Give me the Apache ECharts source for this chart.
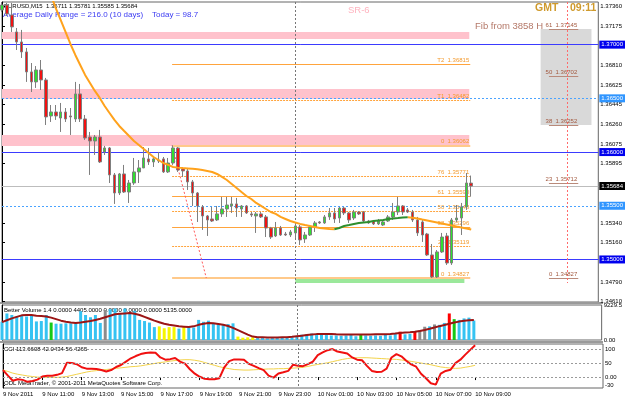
<!DOCTYPE html>
<html><head><meta charset="utf-8">
<script src="https://cdn.jsdelivr.net/npm/echarts@6/dist/echarts.min.js"></script>
<style>html,body{margin:0;padding:0;background:#fff}#c{width:625px;height:398px}</style>
</head><body><div id="c"></div>
<script>
// ---------------- DATA ----------------
const timeLabels = ['9 Nov 2011','9 Nov 11:00','9 Nov 13:00','9 Nov 15:00','9 Nov 17:00','9 Nov 19:00','9 Nov 21:00','9 Nov 23:00','10 Nov 01:00','10 Nov 03:00','10 Nov 05:00','10 Nov 07:00','10 Nov 09:00'];
const labelBars = [0,8,16,24,32,40,48,56,64,72,80,88,96];
const daySeparatorBar = 60;
const priceMin = 1.34604, priceMax = 1.37397;
const priceTicks = [1.37360,1.37175,1.36810,1.36625,1.36445,1.36260,1.36075,1.35895,1.35340,1.35160,1.34790,1.34610];
// open, close, low, high
const candles = [
[1.37323,1.37369,1.37304,1.37397],[1.37369,1.37286,1.37267,1.37388],[1.37276,1.37165,1.37118,1.37388],[1.37118,1.37025,1.36950,1.37155],
[1.37025,1.36932,1.36876,1.37137],[1.36932,1.36746,1.36653,1.36969],[1.36746,1.36653,1.36559,1.36829],[1.36653,1.36764,1.36597,1.36801],
[1.36764,1.36671,1.36578,1.36857],[1.36671,1.36327,1.36252,1.36690],[1.36336,1.36373,1.36280,1.36438],[1.36373,1.36336,1.36299,1.36438],
[1.36317,1.36373,1.36187,1.36457],[1.36373,1.36308,1.36280,1.36410],[1.36336,1.36327,1.36159,1.36410],[1.36308,1.36541,1.36280,1.36653],
[1.36541,1.36308,1.36280,1.36634],[1.36308,1.36131,1.36113,1.36345],[1.36140,1.36103,1.35787,1.36187],[1.36103,1.36140,1.35973,1.36159],
[1.36140,1.35908,1.35898,1.36206],[1.36001,1.36038,1.35973,1.36057],[1.36038,1.35787,1.35712,1.36047],[1.35787,1.35619,1.35517,1.35805],
[1.35619,1.35796,1.35600,1.35805],[1.35796,1.35628,1.35619,1.35880],[1.35628,1.35712,1.35526,1.35740],[1.35712,1.35815,1.35694,1.35945],
[1.35815,1.35852,1.35712,1.35926],[1.35852,1.35945,1.35852,1.36047],[1.35936,1.35908,1.35880,1.36038],[1.35908,1.35936,1.35861,1.35954],
[1.35926,1.35917,1.35898,1.36001],[1.35936,1.35815,1.35805,1.35954],[1.35815,1.35898,1.35805,1.35945],[1.35898,1.36038,1.35880,1.36062],
[1.36038,1.35833,1.35815,1.36047],[1.35843,1.35824,1.35768,1.35852],[1.35824,1.35722,1.35647,1.35852],[1.35722,1.35619,1.35498,1.35740],
[1.35619,1.35498,1.35349,1.35628],[1.35489,1.35405,1.35275,1.35507],[1.35405,1.35368,1.35219,1.35414],[1.35377,1.35358,1.35349,1.35489],
[1.35368,1.35424,1.35358,1.35498],[1.35424,1.35470,1.35396,1.35582],[1.35470,1.35507,1.35396,1.35582],[1.35498,1.35517,1.35433,1.35582],
[1.35517,1.35479,1.35396,1.35573],[1.35470,1.35498,1.35396,1.35507],[1.35498,1.35433,1.35424,1.35507],[1.35424,1.35414,1.35396,1.35442],
[1.35405,1.35424,1.35247,1.35442],[1.35424,1.35396,1.35386,1.35442],[1.35396,1.35293,1.35209,1.35414],[1.35293,1.35209,1.35191,1.35303],
[1.35219,1.35293,1.35209,1.35349],[1.35293,1.35228,1.35219,1.35312],[1.35237,1.35228,1.35219,1.35256],[1.35228,1.35256,1.35209,1.35275],
[1.35247,1.35312,1.35200,1.35349],[1.35303,1.35182,1.35135,1.35321],[1.35191,1.35228,1.35154,1.35256],[1.35228,1.35303,1.35219,1.35321],
[1.35303,1.35340,1.35256,1.35358],[1.35349,1.35340,1.35331,1.35358],[1.35340,1.35396,1.35331,1.35414],[1.35396,1.35433,1.35368,1.35479],
[1.35433,1.35377,1.35340,1.35479],[1.35386,1.35479,1.35340,1.35489],[1.35479,1.35433,1.35414,1.35489],[1.35433,1.35368,1.35340,1.35442],
[1.35386,1.35442,1.35368,1.35461],[1.35442,1.35424,1.35414,1.35451],[1.35442,1.35358,1.35340,1.35451],[1.35358,1.35340,1.35331,1.35368],
[1.35358,1.35331,1.35321,1.35368],[1.35331,1.35358,1.35321,1.35377],[1.35321,1.35349,1.35312,1.35368],[1.35358,1.35396,1.35349,1.35414],
[1.35396,1.35442,1.35368,1.35526],[1.35442,1.35498,1.35414,1.35582],[1.35498,1.35442,1.35414,1.35507],[1.35461,1.35442,1.35433,1.35479],
[1.35442,1.35368,1.35349,1.35461],[1.35368,1.35247,1.35219,1.35396],[1.35349,1.35228,1.35163,1.35368],[1.35237,1.35042,1.35033,1.35247],
[1.35042,1.34837,1.34827,1.35144],[1.34837,1.35070,1.34828,1.35088],[1.35070,1.35209,1.35061,1.35247],[1.35219,1.34967,1.34949,1.35247],
[1.34967,1.35368,1.34949,1.35386],[1.35368,1.35386,1.35349,1.35507],[1.35386,1.35489,1.35228,1.35526],[1.35489,1.35712,1.35461,1.35805],
[1.35711,1.35684,1.35585,1.35781]];
const movingAvg = [null,null,null,null,null,null,null,null,
1.37650,1.37555,1.37462,1.37341,1.37230,1.37118,1.37006,1.36904,1.36811,1.36718,1.36643,1.36569,1.36504,1.36429,1.36364,1.36299,1.36243,1.36196,
1.36150,1.36103,1.36066,1.36029,1.35992,1.35954,1.35926,1.35898,1.35880,1.35861,1.35855,1.35851,1.35848,1.35845,1.35840,1.35833,1.35824,1.35814,
1.35796,1.35768,1.35740,1.35703,1.35666,1.35628,1.35591,1.35563,1.35526,1.35498,1.35470,1.35442,1.35424,1.35396,1.35377,1.35358,1.35344,1.35331,
1.35321,1.35312,1.35303,1.35293,1.35289,1.35284,1.35282,1.35293,1.35312,1.35321,1.35331,1.35340,1.35345,1.35349,1.35358,1.35363,1.35368,1.35377,
1.35382,1.35386,1.35391,1.35393,1.35389,1.35382,1.35372,1.35363,1.35354,1.35345,1.35335,1.35326,1.35317,1.35307,1.35298,1.35289,1.35279];
const roundLevels = [1.37000,1.36000,1.35000];
const halfLevels = [1.36500,1.35500];
const bidPrice = 1.35684;
const srZones = [[1.37118,1.37053],[1.36587,1.36494],[1.36159,1.36057]];
const fibNames = ['T2','T1','0','76','61','50','38','24','0'];
const fibPrices = [1.36815,1.36482,1.36062,1.35771,1.35590,1.35448,1.35296,1.35119,1.34827];
const fib2Names = ['61','50','38','23','0'];
const fib2Prices = [1.37145,1.36702,1.36252,1.35712,1.34827];
const volumes = [4800,7000,6600,6200,6400,6200,6500,4900,5000,6600,4600,4300,4300,4400,4400,4400,7600,6600,6000,6600,
4500,7900,8100,8300,7000,8300,7300,7700,5300,5000,4600,3400,3600,3100,3400,3400,3000,3500,3500,3300,
5300,4800,5100,4300,4100,4100,4200,4400,900,600,700,700,500,500,400,500,500,600,600,700,
1100,1400,1500,1700,1300,1500,1300,1200,1200,1100,1200,1300,1000,1300,1200,1100,1200,1100,1400,1200,
1600,2200,1500,1600,2300,2600,3500,3600,4100,4000,4500,7000,5500,5300,5700,5900,5135];
const volTypes = ['n','n','n','n','n','n','n','n','n','n','g','n','n','n','n','n','n','n','n','n',
'n','k','n','n','n','n','n','n','n','n','n','n','y','y','y','y','n','y','n','n',
'n','n','n','n','n','n','n','n','y','y','y','y','n','n','n','n','n','n','n','n',
'n','n','n','n','n','n','n','n','n','n','n','n','n','g','n','n','n','n','n','n',
'n','r','n','n','r','k','k','n','k','n','n','r','g','n','n','n','n'];
const volumeAvg = [4700,5200,5700,6100,6500,6600,6600,6400,6300,6200,5900,5500,5100,4800,4600,4500,4600,4800,5000,5300,
5600,6000,6400,6800,6900,7000,7100,6900,6600,6100,5600,5100,4700,4300,4000,3800,3600,3500,3400,3600,
4000,4300,4500,4400,4200,4000,3700,3200,2600,2000,1400,900,750,700,650,650,650,700,750,850,
1000,1150,1300,1450,1550,1600,1600,1550,1500,1480,1460,1450,1450,1460,1470,1480,1490,1500,1540,1600,
1700,1850,1950,2050,2200,2400,2650,2950,3300,3650,3950,4300,4600,4850,5050,5200,5300];
const volumeMax = 9229.5;
const cciValues = [25,5,-13,-8,-10,-17,-14,-9,2,5,5,8,14,51,50,46,35,30,30,29,
25,20,25,36,43,55,67,75,82,86,88,87,70,62,64,68,55,48,28,12,
1,-6,-8,-8,-4,35,57,63,63,62,47,40,32,25,5,-2,13,17,22,44,
40,39,46,55,78,88,96,100,91,88,84,70,62,60,40,22,18,19,30,70,
82,74,58,45,37,12,-4,-22,-27,12,22,26,50,62,80,97,113.66];
const cciSignal = [25,20,14,10,7,4,2,0,-1,-1,-1,-1,0,2,6,10,14,18,21,23,
25,27,29,31,33,35,37,38,40,43,46,49,52,54,57,59,61,62,62,60,
57,52,47,42,37,33,30,27,26,25,25,26,27,28,29,29,30,30,31,32,
33,35,38,42,45,48,51,55,59,63,66,68,69,69,69,68,67,66,65,64,
63,61,59,56,53,50,47,44,40,36,34,32,31,32,35,38,42];
const cciLevels = [100,50,0];
const cciTicks = [100,50,0,-30];
const cciMin = -39, cciMax = 118;

const headerText = 'EURUSD,M15  1.35711 1.35781 1.35585 1.35684';
const adrText = 'Average Daily Range = 216.0 (10 days)    Today = 98.7';
const volText = 'Better Volume 1.4 0.0000 4405.0000 0.0000 0.0000 0.0000 5135.0000';
const cciText = 'CCI 113.6608 42.0434 56.4265';
const footText = 'ODL MetaTrader, \u00a9 2001-2011 MetaQuotes Software Corp.';

// ---------------- LAYOUT / STYLE ----------------
const FONT = 'Liberation Sans, Arial, sans-serif';
const SLOTS = 122;
const fibStart = 34.8, fibEnd = 95.8, zoneEnd = 95.6;
const fib2Start = 111.9, fib2End = 117.9;
const boxLeft = 110.2, boxRight = 120.6;
const redVX = 115.7, redVBottom = 1.34781;
const trendFrom = [34.8, 1.36062], trendTo = [41.8, 1.34827];
const hatchFrom = [60, 1.34828], hatchTo = [94.6, 1.34781];
const volColors = {n:'#35c3f2', y:'#f5f500', g:'#16c916', r:'#ff0000', k:'#8c8c8c'};

const chart = echarts.init(document.getElementById('c'), null, {renderer:'canvas'});

// split MA into falling (orange) and rising (green)
const maDown = [], maUp = [];
movingAvg.forEach((v, i) => {
  if (v == null) return;
  const prev = movingAvg[i-1], next = movingAvg[i+1];
  const riseIn = prev != null && v > prev;
  const riseOut = next != null && next > v;
  const fallIn = prev != null && v <= prev;
  const fallOut = next != null && next <= v;
  maUp.push([i, (riseIn || riseOut) ? v : null]);
  maDown.push([i, (fallIn || fallOut || prev == null) ? v : null]);
});

const boxLabel = (txt, bg) => ({show:true, position:'end', distance:1, formatter:txt, backgroundColor:bg, color:'#fff', fontSize:6, fontFamily:FONT, padding:[1,4,1,2]});
const hLine = (p, style, label) => [
  {coord:[0, p], lineStyle:style, label:label || {show:false}},
  {coord:[SLOTS, p]}
];

const mainLines = [];
roundLevels.forEach(p => mainLines.push(hLine(p, {color:'#3b3bff', width:1, type:'solid'}, boxLabel(p.toFixed(5), '#0000ee'))));
halfLevels.forEach(p => mainLines.push(hLine(p, {color:'#4aa3ff', width:1, type:[2,2]}, boxLabel(p.toFixed(5), '#2f95ff'))));
mainLines.push(hLine(bidPrice, {color:'#bdbdbd', width:1, type:'solid'}, boxLabel(bidPrice.toFixed(5), '#000')));
fibPrices.forEach((p, k) => {
  const isZero = fibNames[k] === '0';
  mainLines.push([
    {coord:[fibStart, p], lineStyle:{color: isZero ? '#ffc98a' : '#ffa43d', width: isZero ? 2 : 1, type: (k%2 ? [2,1] : 'solid')},
     label:{show:true, position:'insideEndTop', distance:1, formatter: fibNames[k] + '  ' + p.toFixed(5), color:'#f39a2e', fontSize:6, fontFamily:FONT}},
    {coord:[fibEnd, p]}
  ]);
});
fib2Prices.forEach((p, k) => {
  mainLines.push([
    {coord:[fib2Start, p], lineStyle:{color:'#b98a7a', width:1, type:'solid'},
     label:{show:true, position:'insideEndTop', distance:1, formatter: fib2Names[k] + '  ' + p.toFixed(5), color:'#a2583e', fontSize:6, fontFamily:FONT}},
    {coord:[fib2End, p]}
  ]);
});
mainLines.push([{coord:[redVX, priceMax], lineStyle:{color:'#ff6b6b', width:1, type:[2,2]}, label:{show:false}}, {coord:[redVX, redVBottom]}]);
mainLines.push([{coord:trendFrom, lineStyle:{color:'#ff5a5a', width:1, type:[2,2]}, label:{show:false}}, {coord:trendTo}]);
mainLines.push([{coord:[daySeparatorBar, priceMax], lineStyle:{color:'#777', width:1, type:[2,2]}, label:{show:false}}, {coord:[daySeparatorBar, priceMin]}]);

const mainAreas = [];
srZones.forEach(z => mainAreas.push([{coord:[0, z[0]], itemStyle:{color:'#ffc2cc'}}, {coord:[zoneEnd, z[1]]}]));
mainAreas.push([{coord:[boxLeft, fib2Prices[0]], itemStyle:{color:'#d9d9d9'}}, {coord:[boxRight, fib2Prices[2]]}]);
mainAreas.push([{coord:hatchFrom, itemStyle:{color:'#9be89b'}}, {coord:hatchTo}]);

const vLine = (lo, hi) => [{coord:[daySeparatorBar, hi], lineStyle:{color:'#777', width:1, type:[2,2]}, label:{show:false}}, {coord:[daySeparatorBar, lo]}];

const xAxes = [0,1,2].map(g => ({
  type:'value', gridIndex:g, min:0, max:SLOTS,
  axisLine:{show:false},
  axisTick:{show:g===2, customValues:labelBars, length:3, lineStyle:{color:'#000'}},
  axisLabel:{show:g===2, customValues:labelBars, formatter:v => timeLabels[labelBars.indexOf(Math.round(v))] || '', align:'left', fontSize:6, color:'#000', margin:3, fontFamily:FONT},
  splitLine:{show:false}
}));

const cciLineData = cciLevels.map(l => [{coord:[0, l], lineStyle:{color:'#9a9a9a', width:1, type:[2,2]}, label:{show:false}}, {coord:[SLOTS, l]}]);
cciLineData.push(vLine(cciMin, cciMax));

const option = {
  animation:false,
  backgroundColor:'#fff',
  textStyle:{fontFamily:FONT},
  grid:[
    {left:2, right:22, top:2, height:300, show:true, borderColor:'#666', borderWidth:1},
    {left:2, right:22, top:305, height:35, show:true, borderColor:'#666', borderWidth:1},
    {left:2, right:22, top:344, height:44, show:true, borderColor:'#666', borderWidth:1}
  ],
  xAxis:xAxes,
  yAxis:[
    {type:'value', gridIndex:0, position:'right', min:priceMin, max:priceMax,
     axisLine:{show:true, lineStyle:{color:'#000'}}, axisTick:{show:true, customValues:priceTicks, length:3, lineStyle:{color:'#000'}},
     axisLabel:{customValues:priceTicks, formatter:v => v.toFixed(5), fontSize:6, color:'#000', margin:2, fontFamily:FONT}, splitLine:{show:false}},
    {type:'value', gridIndex:1, position:'right', min:0, max:volumeMax,
     axisLine:{show:true, lineStyle:{color:'#000'}}, axisTick:{show:false},
     axisLabel:{customValues:[volumeMax, 0], formatter:v => v === 0 ? '0.00' : v.toFixed(1), fontSize:6, color:'#000', margin:2, fontFamily:FONT}, splitLine:{show:false}},
    {type:'value', gridIndex:2, position:'right', min:cciMin, max:cciMax,
     axisLine:{show:true, lineStyle:{color:'#000'}}, axisTick:{show:true, customValues:cciTicks, length:2},
     axisLabel:{customValues:cciTicks, formatter:v => v === 0 ? '0.00' : String(v), fontSize:6, color:'#000', margin:2, fontFamily:FONT}, splitLine:{show:false}}
  ],
  series:[
    {type:'candlestick', xAxisIndex:0, yAxisIndex:0, z:3,
     data:candles.map((c, i) => [i, c[0], c[1], c[2], c[3]]),
     encode:{x:0, y:[1,2,3,4]}, barWidth:3,
     itemStyle:{color:'#2fe02f', color0:'#f21212', borderColor:'#7f7f7f', borderColor0:'#7f7f7f', borderWidth:1},
     markArea:{silent:true, z:1, data:mainAreas},
     markLine:{silent:true, z:2, symbol:['none','none'], data:mainLines}},
    {type:'line', xAxisIndex:0, yAxisIndex:0, z:4, data:maDown, symbol:'none', connectNulls:false,
     lineStyle:{color:'#ffa21c', width:2}},
    {type:'line', xAxisIndex:0, yAxisIndex:0, z:4, data:maUp, symbol:'none', connectNulls:false,
     lineStyle:{color:'#2e8f2e', width:2}},
    {type:'bar', xAxisIndex:1, yAxisIndex:1, barWidth:3,
     data:volumes.map((v, i) => ({value:[i, v], itemStyle:{color:volColors[volTypes[i]]}})),
     markLine:{silent:true, symbol:['none','none'], data:[vLine(0, volumeMax)]}},
    {type:'line', xAxisIndex:1, yAxisIndex:1, data:volumeAvg.map((v, i) => [i, v]), symbol:'none',
     lineStyle:{color:'#9b1515', width:2}},
    {type:'line', xAxisIndex:2, yAxisIndex:2, data:cciSignal.map((v, i) => [i, v]), symbol:'none',
     lineStyle:{color:'#f3d34a', width:1},
     markLine:{silent:true, symbol:['none','none'], data:cciLineData}},
    {type:'line', xAxisIndex:2, yAxisIndex:2, z:4, data:cciValues.map((v, i) => [i, v]), symbol:'none',
     lineStyle:{color:'#f01010', width:2}}
  ],
  graphic:[
    {type:'rect', left:0, top:302, shape:{width:603, height:2}, style:{fill:'#9a9a9a'}, silent:true},
    {type:'rect', left:0, top:341, shape:{width:603, height:2}, style:{fill:'#9a9a9a'}, silent:true},
    {type:'text', left:4, top:3, style:{text:headerText, fontSize:6, fill:'#000', fontFamily:FONT}},
    {type:'text', left:3, top:11, style:{text:adrText, fontSize:8, fill:'#3b3bf2', fontFamily:FONT}},
    {type:'text', left:348, top:5, style:{text:'SR-6', fontSize:9.5, fill:'#ffb3bf', fontFamily:FONT}},
    {type:'text', left:475, top:21, style:{text:'Fib from 3858 H', fontSize:9.5, fill:'#b47868', fontFamily:FONT}},
    {type:'text', left:535, top:3, style:{text:'GMT', fontSize:10.5, fontWeight:'bold', fill:'#cf9a2c', fontFamily:FONT}},
    {type:'text', left:570, top:3, style:{text:'09:11', fontSize:10.5, fontWeight:'bold', fill:'#cf9a2c', fontFamily:FONT}},
    {type:'text', left:4, top:307, style:{text:volText, fontSize:6, fill:'#000', fontFamily:FONT}},
    {type:'text', left:4, top:346, style:{text:cciText, fontSize:6, fill:'#000', fontFamily:FONT}},
    {type:'text', left:4, top:380, style:{text:footText, fontSize:6, fill:'#000', fontFamily:FONT}}
  ]
};
chart.setOption(option);
</script>
</body></html>
